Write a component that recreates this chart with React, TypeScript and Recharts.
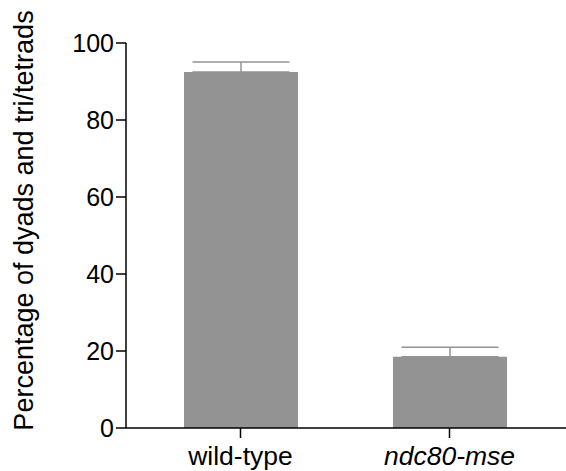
import React from 'react';
import { BarChart, Bar, XAxis, YAxis, ErrorBar, Label } from 'recharts';

const categories = ['wild-type', 'ndc80-mse'];
const percentages = [92.5, 18.5];
const errorUpper = [2.55, 2.5];
const yTicks = [0, 20, 40, 60, 80, 100];
const italicCategories = ['ndc80-mse'];

const data = categories.map((c, i) => ({
  name: c,
  value: percentages[i],
  err: [0, errorUpper[i]],
}));

const FONT = '"Liberation Sans", Arial, Helvetica, sans-serif';
const BAR_COLOR = '#939393';

const XTick = (props: any) => {
  const { x, y, payload } = props;
  const italic = italicCategories.includes(payload.value);
  return (
    <text
      x={x}
      y={y}
      dy="0.71em"
      textAnchor="middle"
      fill="#000"
      fontSize={26.5}
      fontFamily={FONT}
      fontStyle={italic ? 'italic' : 'normal'}
    >
      {payload.value}
    </text>
  );
};

const YTitle = () => (
  <text
    x={33}
    y={220.5}
    transform="rotate(-90, 33, 220.5)"
    textAnchor="middle"
    fill="#000"
    fontSize={27}
    fontFamily={FONT}
  >
    Percentage of dyads and tri/tetrads
  </text>
);

export default function App() {
  return (
    <div style={{ position: 'absolute', left: 0, top: 0, background: '#fff' }}>
      <BarChart
        width={566}
        height={471}
        data={data}
        margin={{ top: 43, right: 0, bottom: 0, left: 0 }}
      >
        <XAxis
          dataKey="name"
          height={43}
          padding={{ left: 10, right: 12 }}
          axisLine={{ stroke: '#000', strokeWidth: 1.5 }}
          tickLine={{ stroke: '#000', strokeWidth: 1.5 }}
          tickSize={10}
          tickMargin={8}
          tick={<XTick />}
          interval={0}
        />
        <YAxis
          width={126}
          domain={[0, 100]}
          ticks={yTicks}
          interval={0}
          axisLine={{ stroke: '#000', strokeWidth: 1.5 }}
          tickLine={{ stroke: '#000', strokeWidth: 1.5 }}
          tickSize={10}
          tickMargin={2}
          tick={{ fill: '#000', fontSize: 25, fontFamily: FONT }}
        >
          <Label content={<YTitle />} />
        </YAxis>
        <Bar dataKey="value" fill={BAR_COLOR} barSize={114} isAnimationActive={false}>
          <ErrorBar
            dataKey="err"
            direction="y"
            width={48.5}
            stroke={BAR_COLOR}
            strokeWidth={1.5}
            isAnimationActive={false}
          />
        </Bar>
      </BarChart>
    </div>
  );
}
